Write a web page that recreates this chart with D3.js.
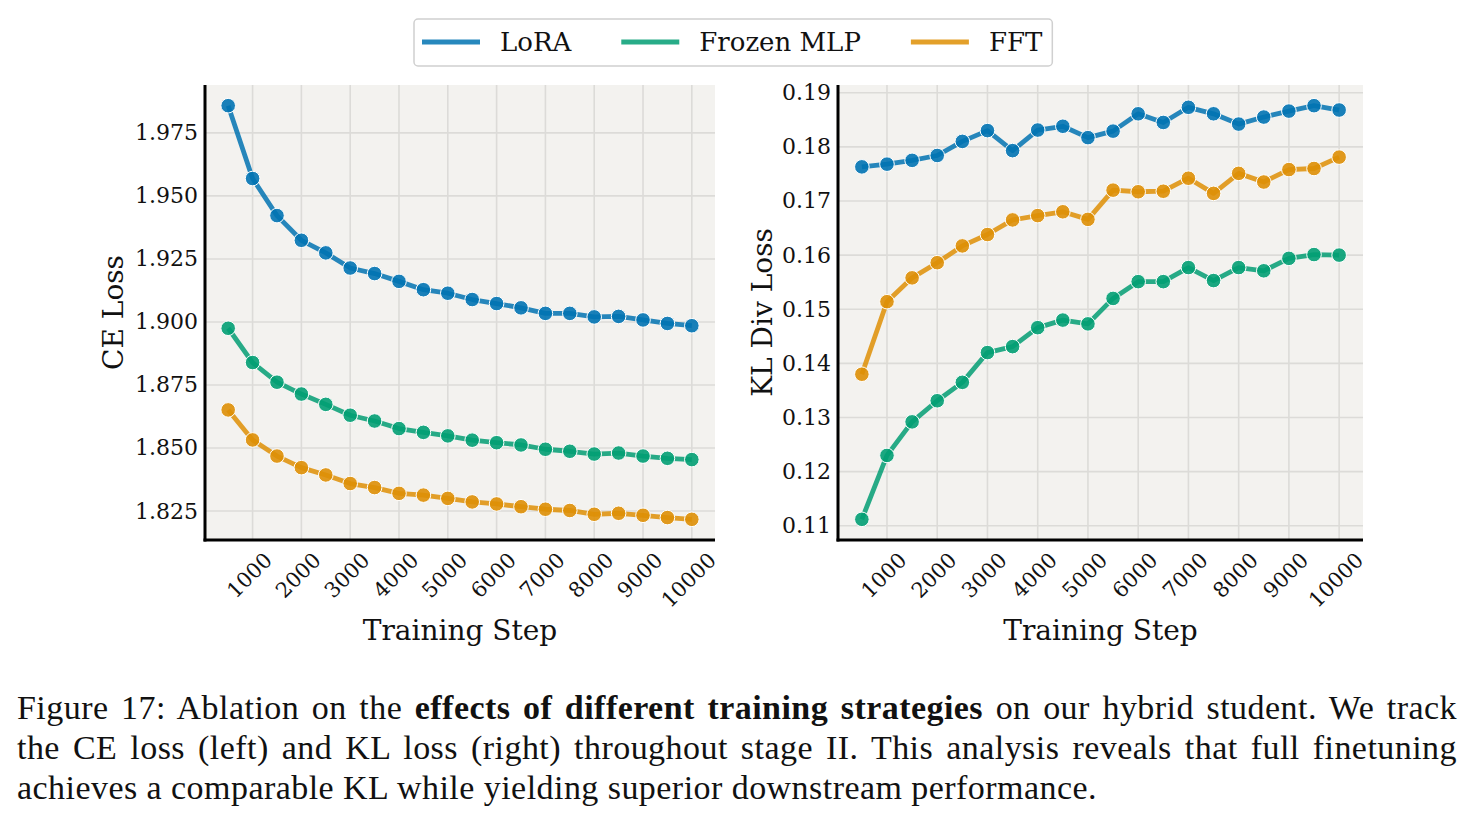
<!DOCTYPE html>
<html>
<head>
<meta charset="utf-8">
<script src="https://cdn.jsdelivr.net/npm/d3@7"></script>
<style>
  body { margin: 0; background: #fff; }
  .caption { position: absolute; left: 17px; width: 1440px; font-family: "Liberation Serif", serif; font-size: 34px; letter-spacing: 0.45px; line-height: 40px; color: #111; }
  .caption div { text-align: justify; text-align-last: justify; white-space: nowrap; }
  .caption div.last { text-align-last: left; }
</style>
</head>
<body>
<script>
(function() {

// training steps (x values)
var steps = [500, 1000, 1500, 2000, 2500, 3000, 3500, 4000, 4500, 5000,
             5500, 6000, 6500, 7000, 7500, 8000, 8500, 9000, 9500, 10000];
var xTicks = [1000, 2000, 3000, 4000, 5000, 6000, 7000, 8000, 9000, 10000];

var seriesNames = ["LoRA", "Frozen MLP", "FFT"];
var seriesColors = ["#0173b2", "#029e73", "#de8f05"];

// CE loss (left panel)
var ceLora   = [1.9858, 1.9569, 1.9422, 1.9324, 1.9274, 1.9214, 1.9192, 1.9161, 1.9128, 1.9114,
                1.9089, 1.9073, 1.9056, 1.9034, 1.9034, 1.9020, 1.9022, 1.9008, 1.8994, 1.8985];
var ceFrozen = [1.8975, 1.8839, 1.8761, 1.8714, 1.8673, 1.8630, 1.8607, 1.8577, 1.8562, 1.8548,
                1.8531, 1.8521, 1.8512, 1.8495, 1.8487, 1.8476, 1.8480, 1.8468, 1.8459, 1.8454];
var ceFFT    = [1.8651, 1.8532, 1.8468, 1.8422, 1.8393, 1.8359, 1.8343, 1.8320, 1.8313, 1.8300,
                1.8286, 1.8278, 1.8267, 1.8257, 1.8252, 1.8237, 1.8241, 1.8233, 1.8224, 1.8217];
var ceTicks = [1.825, 1.850, 1.875, 1.900, 1.925, 1.950, 1.975];

// KL div loss (right panel)
var klLora   = [0.1763, 0.1768, 0.1775, 0.1784, 0.1810, 0.1830, 0.1793, 0.1831, 0.1838, 0.1817,
                0.1829, 0.1861, 0.1845, 0.1873, 0.1861, 0.1842, 0.1855, 0.1866, 0.1876, 0.1868];
var klFrozen = [0.1112, 0.1230, 0.1292, 0.1331, 0.1365, 0.1420, 0.1431, 0.1466, 0.1480, 0.1473,
                0.1520, 0.1551, 0.1551, 0.1577, 0.1553, 0.1577, 0.1571, 0.1594, 0.1601, 0.1600];
var klFFT    = [0.1380, 0.1514, 0.1558, 0.1586, 0.1617, 0.1638, 0.1665, 0.1673, 0.1680, 0.1666,
                0.1720, 0.1717, 0.1718, 0.1742, 0.1714, 0.1751, 0.1735, 0.1758, 0.1760, 0.1781];
var klTicks = [0.11, 0.12, 0.13, 0.14, 0.15, 0.16, 0.17, 0.18, 0.19];

var serif = "'DejaVu Serif', serif";

var svg = d3.select("body").append("svg")
    .attr("width", 1473)
    .attr("height", 680)
    .style("position", "absolute")
    .style("left", 0)
    .style("top", 0);

// pad a domain by 5% like matplotlib does
function padded(arr) {
    var lo = d3.min(arr), hi = d3.max(arr), m = (hi - lo) * 0.05;
    return [lo - m, hi + m];
}

function drawPanel(opts) {
    var x = d3.scaleLinear().domain(padded(steps)).range([opts.left, opts.right]);
    var all = [].concat.apply([], opts.series);
    var y = d3.scaleLinear().domain(padded(all)).range([opts.bottom, opts.top]);
    var g = svg.append("g");

    // background
    g.append("rect")
        .attr("x", opts.left).attr("y", opts.top)
        .attr("width", opts.right - opts.left).attr("height", opts.bottom - opts.top)
        .attr("fill", "#f3f2ef");

    // grid lines
    g.selectAll("line.vgrid").data(xTicks).enter().append("line")
        .attr("x1", function(d) { return x(d); }).attr("x2", function(d) { return x(d); })
        .attr("y1", opts.top).attr("y2", opts.bottom)
        .attr("stroke", "#dcdbd8").attr("stroke-width", 1.6);
    g.selectAll("line.hgrid").data(opts.yTicks).enter().append("line")
        .attr("y1", function(d) { return y(d); }).attr("y2", function(d) { return y(d); })
        .attr("x1", opts.left).attr("x2", opts.right)
        .attr("stroke", "#dcdbd8").attr("stroke-width", 1.6);

    // lines + markers
    var line = d3.line()
        .x(function(d, i) { return x(steps[i]); })
        .y(function(d) { return y(d); });
    opts.series.forEach(function(vals, k) {
        g.append("path")
            .datum(vals)
            .attr("d", line)
            .attr("fill", "none")
            .attr("stroke", seriesColors[k])
            .attr("stroke-opacity", 0.85)
            .attr("stroke-width", 4.8)
            .attr("stroke-linejoin", "round");
        g.selectAll("circle.s" + k).data(vals).enter().append("circle")
            .attr("cx", function(d, i) { return x(steps[i]); })
            .attr("cy", function(d) { return y(d); })
            .attr("r", 7.3)
            .attr("fill", seriesColors[k])
            .attr("fill-opacity", 0.9)
            .attr("stroke", "#fff")
            .attr("stroke-width", 1);
    });

    // spines (left + bottom)
    g.append("line")
        .attr("x1", opts.left).attr("x2", opts.left)
        .attr("y1", opts.top).attr("y2", opts.bottom + 1.5)
        .attr("stroke", "#000").attr("stroke-width", 3);
    g.append("line")
        .attr("x1", opts.left - 1.5).attr("x2", opts.right)
        .attr("y1", opts.bottom).attr("y2", opts.bottom)
        .attr("stroke", "#000").attr("stroke-width", 3);

    // y tick labels
    g.selectAll("text.ytick").data(opts.yTicks).enter().append("text")
        .attr("x", opts.left - 7)
        .attr("y", function(d) { return y(d); })
        .attr("text-anchor", "end")
        .attr("dominant-baseline", "central")
        .attr("font-family", serif)
        .attr("font-size", 22)
        .attr("fill", "#111")
        .text(function(d) { return d3.format(opts.yFmt)(d); });

    // x tick labels rotated 45 degrees, centred under the tick
    var fs = 21;
    g.selectAll("text.xtick").data(xTicks).enter().append("text")
        .attr("text-anchor", "middle")
        .attr("dominant-baseline", "central")
        .attr("font-family", serif)
        .attr("font-size", fs)
        .attr("fill", "#111")
        .text(function(d) { return d; })
        .attr("transform", function(d) {
            var w = this.getComputedTextLength();
            var half = (w + fs * 0.75) * 0.7071 / 2;
            return "translate(" + (x(d) - 3) + "," + (opts.bottom + 11 + half) + ") rotate(-45)";
        });

    // axis labels
    g.append("text")
        .attr("x", (opts.left + opts.right) / 2)
        .attr("y", 640)
        .attr("text-anchor", "middle")
        .attr("font-family", serif)
        .attr("font-size", 28)
        .attr("fill", "#111")
        .text("Training Step");
    g.append("text")
        .attr("transform", "translate(" + opts.ylabelX + "," + ((opts.top + opts.bottom) / 2) + ") rotate(-90)")
        .attr("text-anchor", "middle")
        .attr("dominant-baseline", "central")
        .attr("font-family", serif)
        .attr("font-size", 28)
        .attr("fill", "#111")
        .text(opts.ylabel);
}

drawPanel({
    left: 205, right: 715, top: 85, bottom: 540,
    series: [ceLora, ceFrozen, ceFFT],
    yTicks: ceTicks, yFmt: ".3f",
    ylabel: "CE Loss", ylabelX: 113
});

drawPanel({
    left: 838, right: 1363, top: 85, bottom: 540,
    series: [klLora, klFrozen, klFFT],
    yTicks: klTicks, yFmt: ".2f",
    ylabel: "KL Div Loss", ylabelX: 762
});

// legend
var legend = svg.append("g");
var legBox = legend.append("rect")
    .attr("fill", "#fff")
    .attr("stroke", "#d0d0d0")
    .attr("stroke-width", 1.5)
    .attr("rx", 4);
var lx = 422, ly = 42;
seriesNames.forEach(function(name, k) {
    legend.append("line")
        .attr("x1", lx).attr("x2", lx + 58)
        .attr("y1", ly).attr("y2", ly)
        .attr("stroke", seriesColors[k])
        .attr("stroke-opacity", 0.85)
        .attr("stroke-width", 5);
    var t = legend.append("text")
        .attr("x", lx + 78)
        .attr("y", ly)
        .attr("dominant-baseline", "central")
        .attr("font-family", serif)
        .attr("font-size", 26)
        .attr("fill", "#111")
        .text(name);
    lx = lx + 78 + t.node().getComputedTextLength() + 50;
});
legBox.attr("x", 414).attr("y", 19)
    .attr("width", lx - 50 + 10 - 414).attr("height", 47);

// caption
var cap = d3.select("body").append("div")
    .attr("class", "caption")
    .style("top", "688px");
var l1 = cap.append("div");
l1.append("span").text("Figure 17: Ablation on the ");
l1.append("b").text("effects of different training strategies");
l1.append("span").text(" on our hybrid student. We track");
cap.append("div").text("the CE loss (left) and KL loss (right) throughout stage II. This analysis reveals that full finetuning");
cap.append("div").attr("class", "last").text("achieves a comparable KL while yielding superior downstream performance.");

})();
</script>
</body>
</html>
